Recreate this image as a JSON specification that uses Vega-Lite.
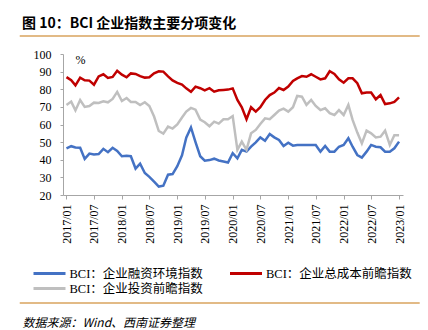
{
  "$schema": "https://vega.github.io/schema/vega-lite/v6.json",
  "width": 340,
  "height": 141,
  "autosize": {"type": "none"},
  "padding": {"left": 63, "top": 54, "right": 25, "bottom": 135},
  "background": "white",
  "config": {
    "view": {"stroke": null},
    "axisY": {"labelOverlap": false, "labelFont": "Liberation Serif", "labelFontSize": 12, "labelColor": "#000000", "labelPadding": 9, "tickSize": 3, "domainColor": "#A6A6A6", "tickColor": "#A6A6A6", "grid": false},
    "axisX": {"format": "%Y/%m", "tickCount": {"interval": "month", "step": 6}, "labelAngle": 270, "labelAlign": "right", "labelBaseline": "middle", "labelFont": "Liberation Serif", "labelFontSize": 12, "labelColor": "#000000", "labelPadding": 5, "labelOverlap": false, "labelFlush": false, "tickSize": 4, "domainColor": "#A6A6A6", "tickColor": "#A6A6A6", "grid": false, "titleFont": "Noto Sans CJK SC", "titleFontStyle": "italic", "titleFontSize": 12, "titleFontWeight": "normal", "titleColor": "#000000", "titleAnchor": "start", "titleAlign": "left", "titleBaseline": "bottom", "titleX": -41, "titleY": 134}
  },
  "title": {
    "text": "图 10：BCI 企业指数主要分项变化",
    "anchor": "start",
    "frame": "group",
    "dx": -41,
    "dy": 22,
    "offset": 26,
    "font": "Noto Sans CJK SC",
    "fontSize": 14,
    "fontWeight": "bold",
    "color": "#000000"
  },
  "data": {
    "format": {"parse": {"d": "date:'%Y/%m'"}},
    "values": [
      {"d": "2017/01", "融资": 46.5, "成本": 86.9, "投资": 71.1},
      {"d": "2017/02", "融资": 47.7, "成本": 85.1, "投资": 73.0},
      {"d": "2017/03", "融资": 47.0, "成本": 82.2, "投资": 68.0},
      {"d": "2017/04", "融资": 46.8, "成本": 86.6, "投资": 73.9},
      {"d": "2017/05", "融资": 40.5, "成本": 85.1, "投资": 70.0},
      {"d": "2017/06", "融资": 43.5, "成本": 84.9, "投资": 70.5},
      {"d": "2017/07", "融资": 43.0, "成本": 82.6, "投资": 72.4},
      {"d": "2017/08", "融资": 43.2, "成本": 87.3, "投资": 72.2},
      {"d": "2017/09", "融资": 46.2, "成本": 88.5, "投资": 73.2},
      {"d": "2017/10", "融资": 44.3, "成本": 86.4, "投资": 72.6},
      {"d": "2017/11", "融资": 46.8, "成本": 87.0, "投资": 74.5},
      {"d": "2017/12", "融资": 45.0, "成本": 90.5, "投资": 78.5},
      {"d": "2018/01", "融资": 42.0, "成本": 88.3, "投资": 73.3},
      {"d": "2018/02", "融资": 42.2, "成本": 86.8, "投资": 75.0},
      {"d": "2018/03", "融资": 42.0, "成本": 89.0, "投资": 72.8},
      {"d": "2018/04", "融资": 35.0, "成本": 88.7, "投资": 72.8},
      {"d": "2018/05", "融资": 37.8, "成本": 87.4, "投资": 71.0},
      {"d": "2018/06", "融资": 32.5, "成本": 86.6, "投资": 72.6},
      {"d": "2018/07", "融资": 30.3, "成本": 86.8, "投资": 70.5},
      {"d": "2018/08", "融资": 27.6, "成本": 89.0, "投资": 64.5},
      {"d": "2018/09", "融资": 24.8, "成本": 90.2, "投资": 56.3},
      {"d": "2018/10", "融资": 25.3, "成本": 90.0, "投资": 54.8},
      {"d": "2018/11", "融资": 31.5, "成本": 87.3, "投资": 58.8},
      {"d": "2018/12", "融资": 31.9, "成本": 85.0, "投资": 57.7},
      {"d": "2019/01", "融资": 36.3, "成本": 83.6, "投资": 60.0},
      {"d": "2019/02", "融资": 42.5, "成本": 82.6, "投资": 64.0},
      {"d": "2019/03", "融资": 52.5, "成本": 80.5, "投资": 67.3},
      {"d": "2019/04", "融资": 58.3, "成本": 78.6, "投资": 69.4},
      {"d": "2019/05", "融资": 50.0, "成本": 81.5, "投资": 68.4},
      {"d": "2019/06", "融资": 42.0, "成本": 80.6, "投资": 62.8},
      {"d": "2019/07", "融资": 39.5, "成本": 79.4, "投资": 61.3},
      {"d": "2019/08", "融资": 39.8, "成本": 80.6, "投资": 59.0},
      {"d": "2019/09", "融资": 40.6, "成本": 78.6, "投资": 61.6},
      {"d": "2019/10", "融资": 39.6, "成本": 79.4, "投资": 60.5},
      {"d": "2019/11", "融资": 39.0, "成本": 79.6, "投资": 63.0},
      {"d": "2019/12", "融资": 38.4, "成本": 79.8, "投资": 63.0},
      {"d": "2020/01", "融资": 43.7, "成本": 80.5, "投资": 64.8},
      {"d": "2020/02", "融资": 40.8, "成本": 73.9, "投资": 45.6},
      {"d": "2020/03", "融资": 45.6, "成本": 69.8, "投资": 50.3},
      {"d": "2020/04", "融资": 44.6, "成本": 63.0, "投资": 45.6},
      {"d": "2020/05", "融资": 47.4, "成本": 69.8, "投资": 55.0},
      {"d": "2020/06", "融资": 49.9, "成本": 67.3, "投资": 56.9},
      {"d": "2020/07", "融资": 52.7, "成本": 69.8, "投资": 60.3},
      {"d": "2020/08", "融资": 50.8, "成本": 73.9, "投资": 63.5},
      {"d": "2020/09", "融资": 54.6, "成本": 76.7, "投资": 63.0},
      {"d": "2020/10", "融资": 52.7, "成本": 78.1, "投资": 65.4},
      {"d": "2020/11", "融资": 51.2, "成本": 80.7, "投资": 67.9},
      {"d": "2020/12", "融资": 47.8, "成本": 79.6, "投资": 69.0},
      {"d": "2021/01", "融资": 49.7, "成本": 81.5, "投资": 67.3},
      {"d": "2021/02", "融资": 48.0, "成本": 84.7, "投资": 69.8},
      {"d": "2021/03", "融资": 48.4, "成本": 86.2, "投资": 76.2},
      {"d": "2021/04", "融资": 48.4, "成本": 87.5, "投资": 75.8},
      {"d": "2021/05", "融资": 48.4, "成本": 87.1, "投资": 71.1},
      {"d": "2021/06", "融资": 48.4, "成本": 88.5, "投资": 73.9},
      {"d": "2021/07", "融资": 48.4, "成本": 87.1, "投资": 70.5},
      {"d": "2021/08", "融资": 44.6, "成本": 85.6, "投资": 68.2},
      {"d": "2021/09", "融资": 47.8, "成本": 86.2, "投资": 69.2},
      {"d": "2021/10", "融资": 44.6, "成本": 90.2, "投资": 66.4},
      {"d": "2021/11", "融资": 44.6, "成本": 88.7, "投资": 65.4},
      {"d": "2021/12", "融资": 47.4, "成本": 85.6, "投资": 68.2},
      {"d": "2022/01", "融资": 48.4, "成本": 83.7, "投资": 65.4},
      {"d": "2022/02", "融资": 52.2, "成本": 86.2, "投资": 71.1},
      {"d": "2022/03", "融资": 47.4, "成本": 86.2, "投资": 62.6},
      {"d": "2022/04", "融资": 42.7, "成本": 83.4, "投资": 55.4},
      {"d": "2022/05", "融资": 41.2, "成本": 77.7, "投资": 49.3},
      {"d": "2022/06", "融资": 44.6, "成本": 78.1, "投资": 56.5},
      {"d": "2022/07", "融资": 48.4, "成本": 78.1, "投资": 55.0},
      {"d": "2022/08", "融资": 47.4, "成本": 74.3, "投资": 52.7},
      {"d": "2022/09", "融资": 47.1, "成本": 76.7, "投资": 53.1},
      {"d": "2022/10", "融资": 44.6, "成本": 71.6, "投资": 56.5},
      {"d": "2022/11", "融资": 44.6, "成本": 72.0, "投资": 48.4},
      {"d": "2022/12", "融资": 46.5, "成本": 72.8, "投资": 53.9},
      {"d": "2023/01", "融资": 50.3, "成本": 75.4, "投资": 53.9}
    ]
  },
  "layer": [
    {
      "transform": [
        {"fold": ["融资", "成本", "投资"], "as": ["key", "value"]},
        {"lookup": "key", "from": {"data": {"values": [
          {"key": "融资", "series": "BCI：企业融资环境指数"},
          {"key": "成本", "series": "BCI：企业总成本前瞻指数"},
          {"key": "投资", "series": "BCI：企业投资前瞻指数"}
        ]}, "key": "key", "fields": ["series"]}}
      ],
      "mark": {"type": "line", "strokeWidth": 2.5},
      "encoding": {
        "x": {
          "field": "d",
          "type": "temporal",
          "scale": {"domain": [{"year": 2016, "month": 12, "date": 9}, {"year": 2023, "month": 1, "date": 27}], "nice": false},
          "axis": {"title": "数据来源：Wind、西南证券整理"}
        },
        "y": {
          "field": "value",
          "type": "quantitative",
          "scale": {"domain": [20, 100], "nice": false, "zero": false},
          "axis": {
            "values": [20, 30, 40, 50, 60, 70, 80, 90, 100],
            "title": "%",
            "titleAngle": 0,
            "titleX": 17,
            "titleY": 5,
            "titleAlign": "center",
            "titleBaseline": "middle",
            "titleFont": "Liberation Serif",
            "titleFontSize": 12,
            "titleFontWeight": "normal",
            "titleColor": "#000000"
          }
        },
        "color": {
          "field": "series",
          "type": "nominal",
          "scale": {
            "domain": ["BCI：企业融资环境指数", "BCI：企业总成本前瞻指数", "BCI：企业投资前瞻指数"],
            "range": ["#4472C4", "#C00000", "#BFBFBF"]
          },
          "legend": {
            "orient": "none",
            "legendX": -31,
            "legendY": 213,
            "direction": "horizontal",
            "columns": 2,
            "title": null,
            "symbolType": "stroke",
            "symbolSize": 1024,
            "symbolStrokeWidth": 3,
            "clipHeight": 13,
            "labelFont": "Liberation Serif, Noto Sans CJK SC",
            "labelFontSize": 12.5,
            "labelColor": "#000000",
            "labelOffset": 2.5,
            "columnPadding": 25.5,
            "rowPadding": 2
          }
        }
      }
    },
    {
      "data": {"values": [{"line": "top"}]},
      "mark": {"type": "rule", "color": "#D9A35E", "strokeWidth": 1.5, "clip": false},
      "encoding": {
        "x": {"datum": 1456617600000, "type": "temporal", "scale": {"domain": [{"year": 2016, "month": 12, "date": 9}, {"year": 2023, "month": 1, "date": 27}], "nice": false}, "axis": {"title": "数据来源：Wind、西南证券整理"}},
        "x2": {"datum": 1684281600000},
        "y": {"datum": 110.2, "type": "quantitative", "scale": {"domain": [20, 100], "nice": false, "zero": false}, "axis": {"values": [20, 30, 40, 50, 60, 70, 80, 90, 100], "title": "%"}}
      }
    },
    {
      "data": {"values": [{"line": "bottom"}]},
      "mark": {"type": "rule", "color": "#D9A35E", "strokeWidth": 1.5, "clip": false},
      "encoding": {
        "x": {"datum": 1456617600000, "type": "temporal", "scale": {"domain": [{"year": 2016, "month": 12, "date": 9}, {"year": 2023, "month": 1, "date": 27}], "nice": false}, "axis": {"title": "数据来源：Wind、西南证券整理"}},
        "x2": {"datum": 1684281600000},
        "y": {"datum": -41.3, "type": "quantitative", "scale": {"domain": [20, 100], "nice": false, "zero": false}, "axis": {"values": [20, 30, 40, 50, 60, 70, 80, 90, 100], "title": "%"}}
      }
    }
  ]
}
